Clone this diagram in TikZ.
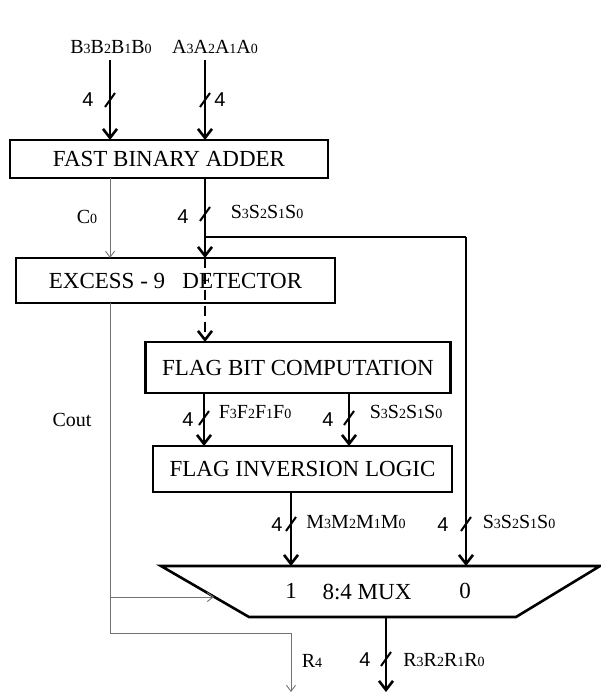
\documentclass[tikz,border=0pt]{standalone}
\usepackage{fontspec}
\setmainfont{Liberation Serif}
\newfontfamily\arialf{Liberation Sans}
\usetikzlibrary{arrows.meta}
\newcommand{\dg}[1]{\raisebox{-0.8pt}{\fontsize{14}{14}\selectfont #1}}
\newcommand{\tickmark}[2]{\draw[tickline] (#1-5,#2+7) -- (#1+5,#2-7);}
\begin{document}
\begin{tikzpicture}[x=1pt,y=-1pt,
  box/.style={draw, line width=2.6pt, inner sep=0pt, outer sep=0pt, font=\fontsize{23}{23}\selectfont},
  bus/.style={line width=2.6pt, -{Straight Barb[length=9pt,width=14pt]}},
  busplain/.style={line width=2.6pt},
  sig/.style={line width=0.9pt, black!55, -{Straight Barb[length=6pt,width=9pt]}},
  sigplain/.style={line width=0.9pt, black!55},
  tickline/.style={line width=2pt},
  lbl/.style={font=\fontsize{20}{20}\selectfont, inner sep=0pt},
  num/.style={font=\arialf\fontsize{20}{20}\selectfont, inner sep=0pt},
  muxtxt/.style={font=\fontsize{23}{23}\selectfont, inner sep=0pt}]
\useasboundingbox (0,0) rectangle (600,695);

% boxes
\node[box, minimum width=318pt, minimum height=38pt] (adder) at (169,159) {FAST BINARY ADDER};
\node[box, minimum width=319pt, minimum height=45pt] (excess) at (175.5,280.5) {EXCESS - 9\ \ \ DETECTOR};
\node[box, minimum width=305pt, minimum height=51pt] (flag) at (298,367.5) {FLAG BIT COMPUTATION};
\node[box, minimum width=299pt, minimum height=46pt] (inv) at (302.5,469) {FLAG INVERSION LOGIC};

% mux
\coordinate (m1) at (161,566);
\coordinate (m2) at (600,566);
\coordinate (m3) at (516,617);
\coordinate (m4) at (249,617);
\draw[line width=2.6pt, line join=miter] (m1) -- (m2) -- (m3) -- (m4) -- cycle;
\node[muxtxt] (one) at (291,591) {1};
\node[muxtxt] (muxname) at (367,592) {8:4 MUX};
\node[muxtxt] (zero) at (465,591) {0};

% inputs
\node[lbl] (blbl) at (111,47) {B\dg{3}B\dg{2}B\dg{1}B\dg{0}};
\node[lbl] (albl) at (215,47) {A\dg{3}A\dg{2}A\dg{1}A\dg{0}};
\coordinate (bin) at (110,60);
\coordinate (ain) at (205,60);
\draw[bus] (bin) -- (bin |- adder.north);
\draw[bus] (ain) -- (ain |- adder.north);
\tickmark{110}{100}
\tickmark{205}{100}
\node[num] (n1) at (88,100) {4};
\node[num] (n2) at (220,100) {4};

% sum out of adder
\coordinate (sdown) at (205,178);
\coordinate (sbr) at (205,237);
\coordinate (sright) at (466,237);
\draw[bus] (sdown) -- (sdown |- excess.north);
\draw[busplain] (sbr) -- (sright);
\draw[bus] (sright) -- (sright |- m1);
\tickmark{205}{214}
\node[num] (n3) at (183,217) {4};
\node[lbl] (slbl1) at (267,212) {S\dg{3}S\dg{2}S\dg{1}S\dg{0}};

% carry
\coordinate (cdown) at (110,178);
\draw[sig] (cdown) -- (cdown |- excess.north);
\node[lbl] (c0lbl) at (87,217) {C\dg{0}};

% dashed through detector
\coordinate (dtop) at (205,258);
\draw[line width=2.6pt, dash pattern=on 10pt off 6pt, -{Straight Barb[length=9pt,width=14pt]}] (dtop) -- (dtop |- flag.north);

% flag bits
\coordinate (fout) at (204,393);
\coordinate (sout) at (349,393);
\draw[bus] (fout) -- (fout |- inv.north);
\draw[bus] (sout) -- (sout |- inv.north);
\tickmark{204}{418}
\tickmark{349}{418}
\node[num] (n4) at (188,420) {4};
\node[num] (n5) at (328,420) {4};
\node[lbl] (flbl) at (255,412) {F\dg{3}F\dg{2}F\dg{1}F\dg{0}};
\node[lbl] (slbl2) at (406,412) {S\dg{3}S\dg{2}S\dg{1}S\dg{0}};

% M into mux
\coordinate (mout) at (291,492);
\draw[bus] (mout) -- (mout |- m1);
\tickmark{291}{524}
\tickmark{466}{524}
\node[num] (n6) at (277,525) {4};
\node[num] (n7) at (443,525) {4};
\node[lbl] (mlbl) at (356,522) {M\dg{3}M\dg{2}M\dg{1}M\dg{0}};
\node[lbl] (slbl3) at (519,522) {S\dg{3}S\dg{2}S\dg{1}S\dg{0}};

% Cout
\coordinate (cout) at (110,303);
\coordinate (ccorner) at (110,633);
\coordinate (csel) at (110,597);
\coordinate (cselend) at (214,597);
\coordinate (r4end) at (291,692);
\draw[sig] (cout) -- (ccorner) -| (r4end);
\draw[sig] (csel) -- (cselend);
\node[lbl] (coutlbl) at (72,420) {Cout};
\node[lbl] (r4lbl) at (312,661) {R\dg{4}};

% result
\coordinate (rtop) at (386,617);
\coordinate (rend) at (386,692);
\draw[bus] (rtop) -- (rend);
\tickmark{386}{659}
\node[num] (n8) at (365,660) {4};
\node[lbl] (rlbl) at (444,660) {R\dg{3}R\dg{2}R\dg{1}R\dg{0}};
\end{tikzpicture}
\end{document}
